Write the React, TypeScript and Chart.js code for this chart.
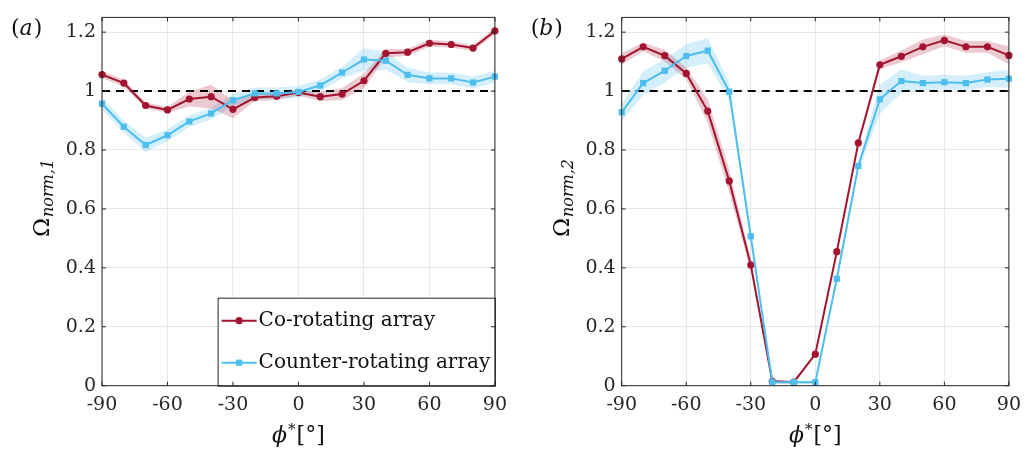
import React, { useEffect, useRef } from "react";
import { Chart, registerables } from "chart.js";

Chart.register(...registerables);

// ---------- data ----------
const angles = [-90, -80, -70, -60, -50, -40, -30, -20, -10, 0, 10, 20, 30, 40, 50, 60, 70, 80, 90];
const xTicks = [-90, -60, -30, 0, 30, 60, 90];
const yTicks = [0, 0.2, 0.4, 0.6, 0.8, 1, 1.2];
const refX = [-90, 90];
const refY = [1, 1];

// panel (a): Omega_norm,1
const coA = [1.056, 1.027, 0.951, 0.936, 0.973, 0.981, 0.938, 0.978, 0.982, 0.995, 0.981, 0.99, 1.035, 1.128, 1.132, 1.162, 1.158, 1.146, 1.204];
const coAErr = [0.012, 0.012, 0.01, 0.01, 0.025, 0.04, 0.03, 0.012, 0.012, 0.01, 0.015, 0.02, 0.025, 0.015, 0.012, 0.012, 0.01, 0.01, 0.012];
const ctrA = [0.957, 0.879, 0.817, 0.85, 0.897, 0.924, 0.969, 0.992, 0.992, 0.997, 1.019, 1.063, 1.107, 1.103, 1.055, 1.043, 1.043, 1.029, 1.049];
const ctrAErr = [0.02, 0.02, 0.025, 0.02, 0.02, 0.02, 0.02, 0.02, 0.02, 0.02, 0.02, 0.02, 0.038, 0.03, 0.025, 0.02, 0.02, 0.02, 0.02];

// panel (b): Omega_norm,2
const coB = [1.109, 1.15, 1.12, 1.06, 0.932, 0.695, 0.41, 0.015, 0.012, 0.107, 0.455, 0.824, 1.089, 1.118, 1.15, 1.172, 1.15, 1.15, 1.121];
const coBErr = [0.02, 0.015, 0.02, 0.02, 0.04, 0.04, 0.02, 0.005, 0.005, 0.005, 0.01, 0.01, 0.015, 0.02, 0.025, 0.02, 0.02, 0.02, 0.03];
const ctrB = [0.928, 1.027, 1.069, 1.119, 1.137, 0.998, 0.507, 0.012, 0.012, 0.012, 0.363, 0.746, 0.972, 1.034, 1.027, 1.03, 1.027, 1.039, 1.042];
const ctrBErr = [0.03, 0.04, 0.04, 0.04, 0.043, 0.03, 0.02, 0.005, 0.005, 0.005, 0.01, 0.015, 0.05, 0.04, 0.025, 0.025, 0.025, 0.025, 0.03];

const seriesNames = ["Co-rotating array", "Counter-rotating array"];

// ---------- styles ----------
const RED = "#A2142F";
const BLUE = "#4DBEEE";
const RED_BAND = "rgba(162,20,47,0.22)";
const BLUE_BAND = "rgba(77,190,238,0.24)";
const AXIS = "#262626";
const FONT = "DejaVu Serif";

type PanelCfg = {
  co: number[];
  coErr: number[];
  ctr: number[];
  ctrErr: number[];
  tag: string;
  sub: string;
  legend: boolean;
  padRight: number;
  yWidth: number;
};

function pts(vals: number[], off?: number[], sign = 0) {
  return angles.map((x, i) => ({ x, y: vals[i] + (off ? sign * off[i] : 0) }));
}

function drawMarker(ctx: CanvasRenderingContext2D, kind: string, x: number, y: number, color: string) {
  ctx.fillStyle = color;
  if (kind === "circle") {
    ctx.beginPath();
    ctx.arc(x, y, 3.6, 0, Math.PI * 2);
    ctx.fill();
  } else {
    ctx.fillRect(x - 3.1, y - 3.1, 6.2, 6.2);
  }
}

function decorPlugin(cfg: PanelCfg) {
  return {
    id: "decor",
    afterDraw(chart: any) {
      const { ctx, chartArea } = chart;
      const { left, right, top, bottom } = chartArea;
      const xs = chart.scales.x;
      const ys = chart.scales.y;
      ctx.save();
      // legend
      if (cfg.legend) {
        const lx = right - 277.3;
        const ly = bottom - 88;
        ctx.fillStyle = "#fff";
        ctx.fillRect(lx, ly, right - lx, bottom - ly);
        ctx.strokeStyle = AXIS;
        ctx.lineWidth = 1;
        ctx.strokeRect(lx + 0.5, ly + 0.5, right - lx, bottom - ly);
        const rows = [
          { name: seriesNames[0], color: RED, kind: "circle", y: ly + 23 },
          { name: seriesNames[1], color: BLUE, kind: "rect", y: ly + 65 },
        ];
        ctx.font = `20px "${FONT}"`;
        ctx.textBaseline = "middle";
        ctx.textAlign = "left";
        rows.forEach((r) => {
          ctx.strokeStyle = r.color;
          ctx.lineWidth = 2;
          ctx.beginPath();
          ctx.moveTo(lx + 4, r.y);
          ctx.lineTo(lx + 39, r.y);
          ctx.stroke();
          drawMarker(ctx, r.kind, lx + 21.5, r.y, r.color);
          ctx.fillStyle = "#111";
          ctx.fillText(r.name, lx + 41, r.y);
        });
      }
      // frame
      ctx.strokeStyle = AXIS;
      ctx.lineWidth = 1;
      ctx.strokeRect(left, top, right - left, bottom - top);
      // inner ticks
      ctx.beginPath();
      xTicks.forEach((v) => {
        const px = xs.getPixelForValue(v);
        ctx.moveTo(px, bottom);
        ctx.lineTo(px, bottom - 4);
        ctx.moveTo(px, top);
        ctx.lineTo(px, top + 4);
      });
      yTicks.forEach((v) => {
        const py = ys.getPixelForValue(v);
        ctx.moveTo(left, py);
        ctx.lineTo(left + 4, py);
        ctx.moveTo(right, py);
        ctx.lineTo(right - 4, py);
      });
      ctx.stroke();

      ctx.fillStyle = "#111";
      ctx.textBaseline = "middle";
      // panel tag "(a)"
      let tx = left - 91;
      const ty = top + 12;
      ctx.textAlign = "left";
      ctx.font = `22px "${FONT}"`;
      ctx.fillText("(", tx, ty);
      tx += ctx.measureText("(").width;
      ctx.font = `italic 22px "${FONT}"`;
      ctx.fillText(cfg.tag, tx, ty);
      tx += ctx.measureText(cfg.tag).width + 1;
      ctx.font = `22px "${FONT}"`;
      ctx.fillText(")", tx, ty);

      // y label (rotated)
      ctx.save();
      const cy = (top + bottom) / 2 - 3;
      ctx.translate(left - 59, cy);
      ctx.rotate(-Math.PI / 2);
      ctx.font = `23px "${FONT}"`;
      const wO = ctx.measureText("Ω").width;
      ctx.font = `italic 16px "${FONT}"`;
      const wS = ctx.measureText(cfg.sub).width;
      let sx = -(wO + wS) / 2;
      ctx.textAlign = "left";
      ctx.font = `23px "${FONT}"`;
      ctx.fillText("Ω", sx, 0);
      ctx.font = `italic 16px "${FONT}"`;
      ctx.fillText(cfg.sub, sx + wO + 1, 6);
      ctx.restore();

      // x label
      const xl = (left + right) / 2;
      const xy = bottom + 51;
      ctx.font = `italic 22px "${FONT}"`;
      const wPhi = ctx.measureText("ϕ").width;
      ctx.font = `15px "${FONT}"`;
      const wStar = ctx.measureText("*").width;
      ctx.font = `22px "${FONT}"`;
      const wBr = ctx.measureText("[°]").width;
      let px0 = xl - (wPhi + wStar + wBr + 2) / 2;
      ctx.font = `italic 22px "${FONT}"`;
      ctx.fillText("ϕ", px0, xy);
      px0 += wPhi + 1;
      ctx.font = `15px "${FONT}"`;
      ctx.fillText("*", px0, xy - 7);
      px0 += wStar + 1;
      ctx.font = `22px "${FONT}"`;
      ctx.fillText("[°]", px0, xy);
      ctx.restore();
    },
  };
}

function makeConfig(cfg: PanelCfg): any {
  return {
    type: "line",
    data: {
      datasets: [
        { data: pts(cfg.co, cfg.coErr, 1), borderWidth: 0, pointRadius: 0, fill: false, order: 10 },
        { data: pts(cfg.co, cfg.coErr, -1), borderWidth: 0, pointRadius: 0, fill: { target: 0 }, backgroundColor: RED_BAND, order: 10 },
        { data: pts(cfg.ctr, cfg.ctrErr, 1), borderWidth: 0, pointRadius: 0, fill: false, order: 10 },
        { data: pts(cfg.ctr, cfg.ctrErr, -1), borderWidth: 0, pointRadius: 0, fill: { target: 2 }, backgroundColor: BLUE_BAND, order: 10 },
        {
          data: refX.map((x, i) => ({ x, y: refY[i] })),
          borderColor: "#000",
          borderWidth: 2,
          borderDash: [8, 6],
          pointRadius: 0,
          fill: false,
          order: 3,
        },
        {
          label: seriesNames[0],
          data: pts(cfg.co),
          borderColor: RED,
          backgroundColor: RED,
          borderWidth: 2,
          pointRadius: 3.6,
          pointStyle: "circle",
          pointBorderWidth: 0,
          fill: false,
          clip: false,
          order: 2,
        },
        {
          label: seriesNames[1],
          data: pts(cfg.ctr),
          borderColor: BLUE,
          backgroundColor: BLUE,
          borderWidth: 2,
          pointRadius: 4.4,
          pointStyle: "rect",
          pointBorderWidth: 0,
          fill: false,
          clip: false,
          order: 1,
        },
      ],
    },
    options: {
      animation: false,
      responsive: false,
      devicePixelRatio: 1,
      events: [],
      layout: { padding: { top: 14.3, right: cfg.padRight, left: 0, bottom: 0 } },
      plugins: { legend: { display: false }, tooltip: { enabled: false } },
      scales: {
        x: {
          type: "linear",
          min: -90,
          max: 90,
          afterBuildTicks: (s: any) => {
            s.ticks = xTicks.map((v) => ({ value: v }));
          },
          afterFit: (s: any) => {
            s.height = 64.3;
          },
          ticks: {
            callback: (v: any) => String(v),
            font: { family: FONT, size: 19 },
            color: AXIS,
            padding: 8,
            maxRotation: 0,
          },
          grid: { color: "rgba(0,0,0,0.09)", drawTicks: false, tickLength: 0 },
          border: { display: false },
        },
        y: {
          type: "linear",
          min: 0,
          max: 1.25,
          afterBuildTicks: (s: any) => {
            s.ticks = yTicks.map((v) => ({ value: v }));
          },
          afterFit: (s: any) => {
            s.width = cfg.yWidth;
          },
          ticks: {
            callback: (v: any) => String(v),
            font: { family: FONT, size: 19 },
            color: AXIS,
            padding: 6,
          },
          grid: { color: "rgba(0,0,0,0.09)", drawTicks: false, tickLength: 0 },
          border: { display: false },
        },
      },
    },
    plugins: [decorPlugin(cfg)],
  };
}

function Panel(props: { cfg: PanelCfg; left: number; width: number }) {
  const ref = useRef<HTMLCanvasElement | null>(null);
  useEffect(() => {
    if (!ref.current) return;
    const chart = new Chart(ref.current, makeConfig(props.cfg));
    return () => chart.destroy();
  }, []);
  return (
    <canvas
      ref={ref}
      width={props.width}
      height={450}
      style={{ position: "absolute", left: props.left, top: 0, width: props.width, height: 450 }}
    />
  );
}

const panelA: PanelCfg = { co: coA, coErr: coAErr, ctr: ctrA, ctrErr: ctrAErr, tag: "a", sub: "norm,1", legend: true, padRight: 19, yWidth: 102 };
const panelB: PanelCfg = { co: coB, coErr: coBErr, ctr: ctrB, ctrErr: ctrBErr, tag: "b", sub: "norm,2", legend: false, padRight: 13.7, yWidth: 106.7 };

export default function App() {
  return (
    <div style={{ position: "absolute", left: 0, top: 0, width: 1029, height: 450, background: "#fff", overflow: "hidden" }}>
      <Panel cfg={panelA} left={0} width={515} />
      <Panel cfg={panelB} left={515} width={514} />
    </div>
  );
}
